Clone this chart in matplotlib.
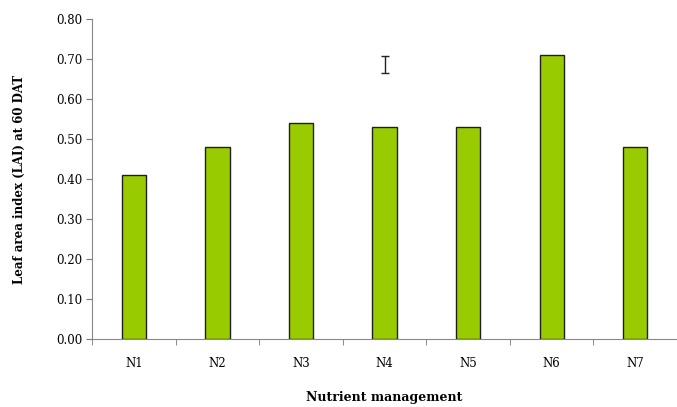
import numpy as np
import matplotlib.pyplot as plt

# leaf area index per nutrient treatment
treatments = ["N1", "N2", "N3", "N4", "N5", "N6", "N7"]
lai = [0.41, 0.48, 0.54, 0.53, 0.53, 0.71, 0.48]

# stand-alone LSD bar drawn above N4
lsd_pos = 3
lsd_low, lsd_high = 0.665, 0.708

plt.rcParams['font.family'] = ['DejaVu Serif']

fig = plt.figure(figsize=(6.77, 4.07), dpi=100)
ax = fig.add_axes([0.136, 0.167, 0.864, 0.786])

x = np.arange(len(treatments))
ax.bar(x, lai, width=0.29, color="#99CC00", edgecolor="#1f1f1f", linewidth=1.0, zorder=3)

mid = (lsd_low + lsd_high) / 2
ax.errorbar([lsd_pos], [mid], yerr=[(lsd_high - lsd_low) / 2], fmt="none",
            ecolor="#222222", elinewidth=1.0, capsize=3, capthick=1.0)

ax.set_xlim(-0.5, len(treatments) - 0.5)
ax.set_ylim(0, 0.8)
ax.set_yticks(np.arange(0, 0.81, 0.1))
ax.set_yticklabels([f"{v:.2f}" for v in np.arange(0, 0.81, 0.1)], fontsize=8.5)
ax.set_xticks(x)
ax.set_xticklabels(treatments, fontsize=8.5)
ax.tick_params(axis="x", which="major", length=0, pad=13)
ax.set_xticks(np.arange(-0.5, len(treatments), 1), minor=True)
ax.tick_params(axis="x", which="minor", length=4, color="#777777")
ax.tick_params(axis="y", length=4, color="#777777", pad=3)

for side in ("top", "right"):
    ax.spines[side].set_visible(False)
for side in ("left", "bottom"):
    ax.spines[side].set_color("#888888")

ax.set_ylabel("Leaf area index (LAI) at 60 DAT", fontsize=8.5, fontweight="bold", labelpad=22)
ax.set_xlabel("Nutrient management", fontsize=9, fontweight="bold", labelpad=15)

fig.savefig("out.png", dpi=100)
